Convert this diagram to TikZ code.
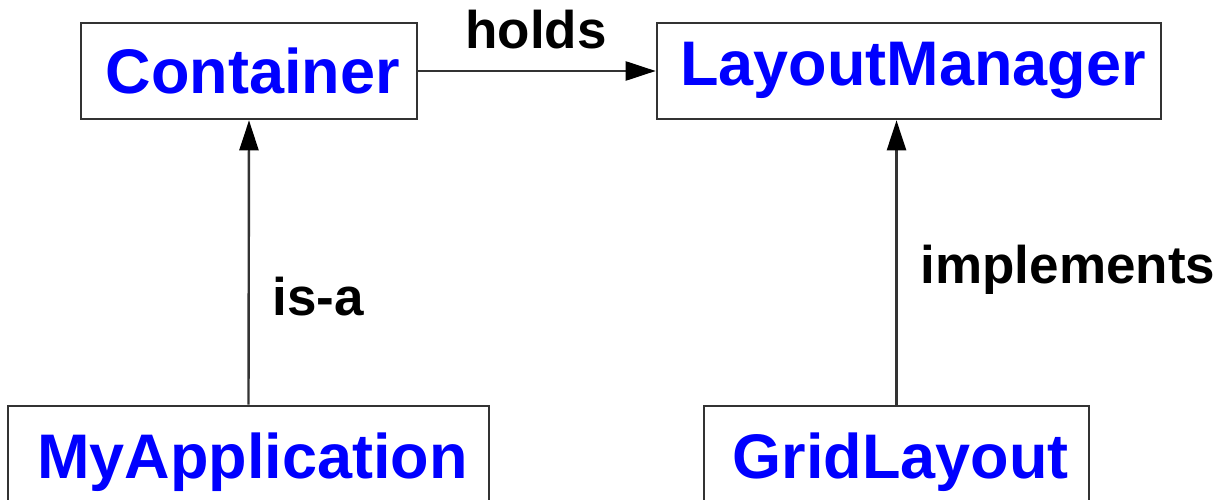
\documentclass[tikz,border=0pt]{standalone}
\usepackage{fontspec}
\setmainfont{Liberation Sans}
\usetikzlibrary{arrows.meta}
\definecolor{linegray}{HTML}{333333}
\tikzset{
  cls/.style={draw=linegray, line width=2.6pt, inner sep=0pt, fill=white,
    text=blue, font=\bfseries\fontsize{63}{70}\selectfont},
  rel/.style={draw=linegray, line width=2.4pt,
    -{Triangle[length=30pt,width=19pt,fill=black,color=black]}},
  lbl/.style={font=\bfseries\fontsize{53}{58}\selectfont, text=black, inner sep=0pt}
}
\begin{document}
\begin{tikzpicture}[x=1pt,y=-1pt]
\useasboundingbox (0,0) rectangle (1230,500);
\node[cls, minimum width=336pt, minimum height=96pt] (cont) at (249,71) {\hspace*{8pt}Container};
\node[cls, minimum width=504pt, minimum height=96pt] (lm) at (909,71) {\hspace*{8pt}LayoutManager};
\node[cls, minimum width=481pt, minimum height=112pt] (app) at (248.5,462) {\hspace*{8pt}MyApplication};
\node[cls, minimum width=385pt, minimum height=112pt] (grid) at (896.5,462) {\hspace*{8pt}GridLayout};
\draw[rel] (cont.east) -- (lm.west);
\draw[rel] (app.north) -- (cont.south);
\draw[rel] (grid.north) -- (grid.north |- lm.south);
\node[lbl] (holds) at (536,30) {holds};
\node[lbl] (isa) at (318,297) {is-a};
\node[lbl] (impl) at (1068,270) {implements};
\end{tikzpicture}
\end{document}
